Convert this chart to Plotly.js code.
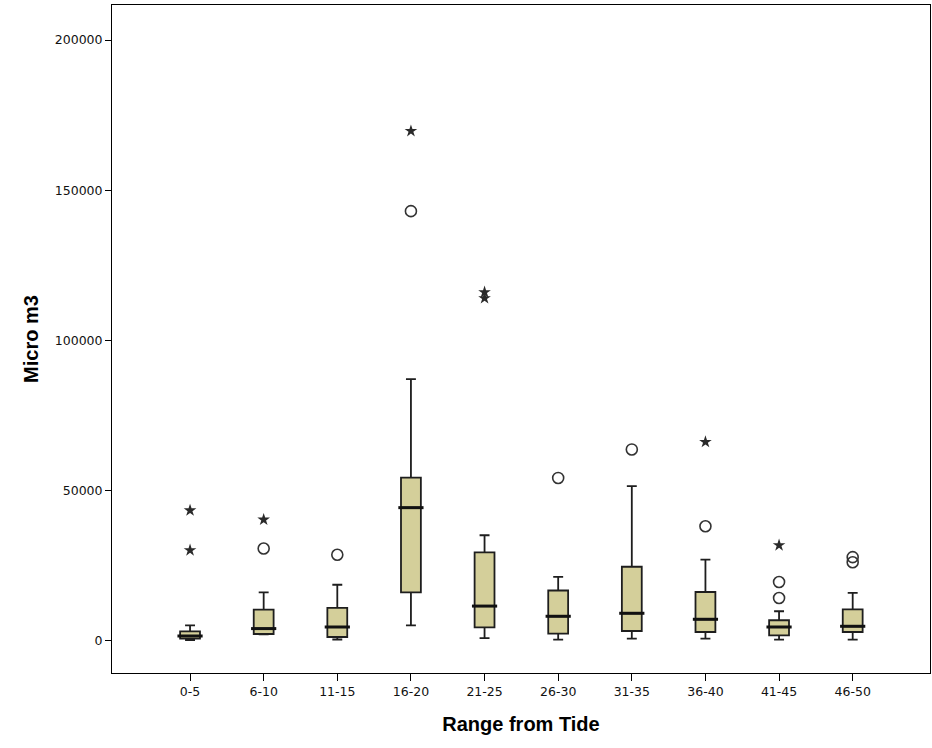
<!DOCTYPE html>
<html>
<head>
<meta charset="utf-8">
<script src="https://cdn.plot.ly/plotly-3.0.1.min.js"></script>
<style>html,body{margin:0;padding:0;background:#fff;}#chart{width:932px;height:748px;}</style>
</head>
<body>
<div id="chart"></div>
<script>
// Categories and box statistics (Micro m3)
var categories = ['0-5','6-10','11-15','16-20','21-25','26-30','31-35','36-40','41-45','46-50'];
var lowerWhisker = [100, 2000, 270, 5000, 700, 230, 570, 570, 230, 230];
var q1Values = [570, 2100, 1100, 16000, 4300, 2230, 3100, 2770, 1670, 2770];
var medianValues = [1430, 3900, 4430, 44200, 11400, 8000, 9000, 7000, 4430, 4670];
var q3Values = [3000, 10200, 10770, 54200, 29300, 16600, 24500, 16100, 6670, 10330];
var upperWhisker = [5000, 16000, 18500, 87000, 35000, 21100, 51400, 26900, 9670, 15770];

// Outliers (circles) and extreme values (stars)
var circleCats = ['6-10','11-15','16-20','26-30','31-35','36-40','41-45','41-45','46-50','46-50'];
var circleVals = [30570, 28500, 143000, 54100, 63600, 38000, 19430, 14100, 27700, 26000];
var starCats = ['0-5','0-5','6-10','16-20','21-25','21-25','36-40','41-45'];
var starVals = [43300, 30000, 40200, 169700, 116000, 114000, 66100, 31670];

var yTicks = [0, 50000, 100000, 150000, 200000];
var yTickText = ['0', '50000', '100000', '150000', '200000'];

var boxTrace = {
  type: 'box',
  x: categories,
  q1: q1Values,
  median: medianValues,
  q3: q3Values,
  lowerfence: lowerWhisker,
  upperfence: upperWhisker,
  width: 0.27,
  whiskerwidth: 0.5,
  fillcolor: '#d4cf9a',
  line: {color: '#1e1e1e', width: 1.8},
  hoverinfo: 'skip',
  showlegend: false
};

var medianTrace = {
  type: 'scatter',
  mode: 'markers',
  x: categories,
  y: medianValues,
  marker: {symbol: 'line-ew', size: 18, line: {color: '#111', width: 3}},
  hoverinfo: 'skip',
  showlegend: false
};

var circleTrace = {
  type: 'scatter',
  mode: 'markers',
  x: circleCats,
  y: circleVals,
  marker: {symbol: 'circle-open', size: 11, color: '#333', line: {color: '#333', width: 1.6}},
  hoverinfo: 'skip',
  showlegend: false
};

var starTrace = {
  type: 'scatter',
  mode: 'markers',
  x: starCats,
  y: starVals,
  marker: {symbol: 'star', size: 9.5, color: '#2a2a2a', line: {width: 0}},
  hoverinfo: 'skip',
  showlegend: false
};

var layout = {
  width: 932,
  height: 748,
  margin: {l: 112, r: 2, t: 5, b: 75},
  paper_bgcolor: '#ffffff',
  plot_bgcolor: '#ffffff',
  showlegend: false,
  xaxis: {
    type: 'category',
    categoryorder: 'array',
    categoryarray: categories,
    range: [-1.06, 10.05],
    showgrid: false,
    zeroline: false,
    showline: true,
    mirror: true,
    linecolor: '#000',
    linewidth: 1,
    ticks: 'outside',
    ticklen: 7,
    tickcolor: '#000',
    tickfont: {family: 'DejaVu Sans', size: 12.5, color: '#111'},
    title: {text: 'Range from Tide', font: {family: 'Liberation Sans, Arial', size: 20, color: '#000', weight: 'bold'}, standoff: 18},
    fixedrange: true
  },
  yaxis: {
    range: [-10900, 211700],
    tickvals: yTicks,
    ticktext: yTickText,
    showgrid: false,
    zeroline: false,
    showline: true,
    mirror: true,
    linecolor: '#000',
    linewidth: 1,
    ticks: 'outside',
    ticklen: 6,
    tickcolor: '#000',
    tickfont: {family: 'DejaVu Sans', size: 12.5, color: '#111'},
    title: {text: 'Micro m3', font: {family: 'Liberation Sans, Arial', size: 20, color: '#000', weight: 'bold'}, standoff: 10},
    fixedrange: true
  }
};

Plotly.newPlot('chart', [boxTrace, medianTrace, circleTrace, starTrace], layout, {displayModeBar: false, staticPlot: true});
</script>
</body>
</html>
